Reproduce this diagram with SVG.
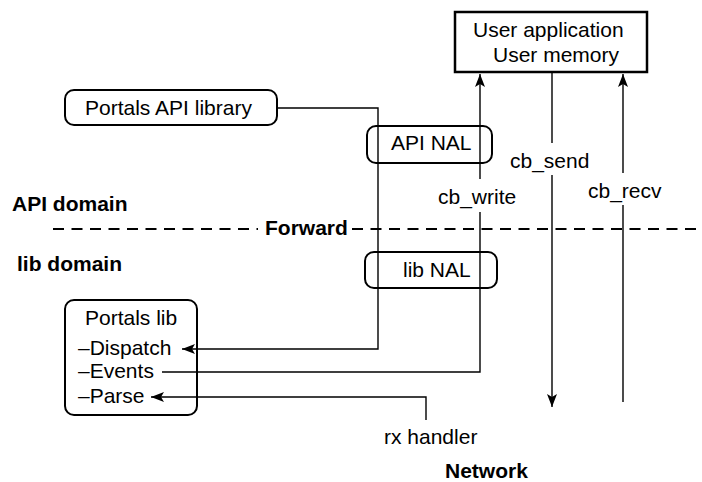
<svg xmlns="http://www.w3.org/2000/svg" width="702" height="482" viewBox="0 0 702 482">
<defs>
<marker id="ah" markerUnits="userSpaceOnUse" markerWidth="14" markerHeight="10" refX="13" refY="5" orient="auto">
<path d="M0,0 L13,5 L0,10 L3,5 Z" fill="#000"/>
</marker>
<style>
text{font-family:"Liberation Sans",Arial,sans-serif;font-size:21px;fill:#000}
.b{font-weight:bold}
.box{fill:none;stroke:#000;stroke-width:2}
.ln{fill:none;stroke:#000;stroke-width:1.4}
.dash{fill:none;stroke:#000;stroke-width:2;stroke-dasharray:11 7.5}
</style>
</defs>
<rect width="702" height="482" fill="#fff"/>
<g id="labels">
<text x="12" y="211" class="b">API domain</text>
<text x="17" y="271" class="b">lib domain</text>
<text x="265" y="235" class="b">Forward</text>
<text x="445" y="478" class="b">Network</text>
</g>
<g id="connectors">
<path class="dash" d="M53,229 H258 M352,229 H702"/>
<path class="ln" d="M277,108 H378 V349 H182" marker-end="url(#ah)"/>
<path class="ln" d="M162,372 H480 V212 M480,179 V74" marker-end="url(#ah)"/>
<path class="ln" d="M426,420 V397 H151" marker-end="url(#ah)"/>
<path class="ln" d="M552,72 V143 M552,175 V407" marker-end="url(#ah)"/>
<path class="ln" d="M623,402 V205 M623,173 V74" marker-end="url(#ah)"/>
</g>
<g id="user-app">
<rect x="455" y="12" width="192" height="60" fill="#fff" stroke="#000" stroke-width="2.5"/>
<text x="473" y="37">User application</text>
<text x="493" y="62">User memory</text>
</g>
<g id="api-lib">
<rect class="box" x="65" y="90" width="212" height="35" rx="9"/>
<text x="85" y="115">Portals API library</text>
</g>
<g id="api-nal">
<rect class="box" x="367" y="126" width="125" height="37" rx="9"/>
<text x="391" y="150">API NAL</text>
</g>
<g id="lib-nal">
<rect class="box" x="365" y="252" width="132" height="36" rx="9"/>
<text x="403" y="277">lib NAL</text>
</g>
<g id="portals-lib">
<rect class="box" x="65" y="300" width="132" height="115" rx="9"/>
<text x="85" y="325">Portals lib</text>
<text x="78" y="355">–Dispatch</text>
<text x="78" y="378">–Events</text>
<text x="78" y="403">–Parse</text>
</g>
<g id="cb-labels">
<text x="510" y="168">cb_send</text>
<text x="588" y="198">cb_recv</text>
<text x="438" y="204">cb_write</text>
<text x="384" y="444">rx handler</text>
</g>
</svg>
